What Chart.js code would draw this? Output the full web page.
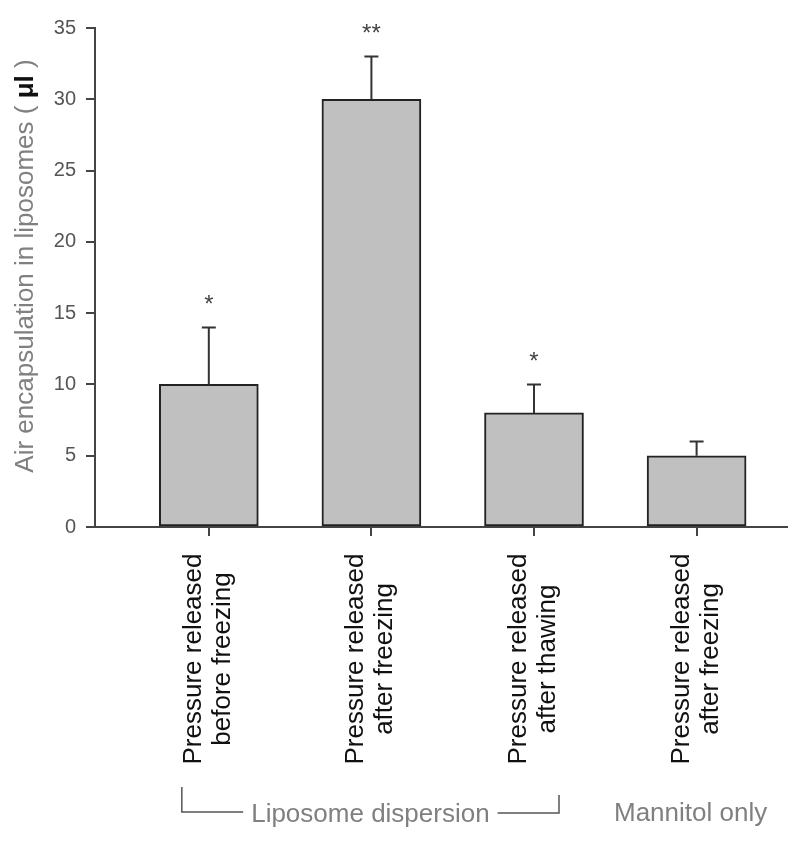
<!DOCTYPE html>
<html>
<head>
<meta charset="utf-8">
<script src="https://cdn.jsdelivr.net/npm/chart.js@4"></script>
<style>
  html, body { margin: 0; padding: 0; background: #fff; }
  #wrap { width: 800px; height: 843px; position: relative; }
</style>
</head>
<body>
<div id="wrap"><canvas id="chart"></canvas></div>
<script>
// values
const categories = [
    ['Pressure released', 'before freezing'],
    ['Pressure released', 'after freezing'],
    ['Pressure released', 'after thawing'],
    ['Pressure released', 'after freezing']
];
const means = [10, 30, 8, 5];
const upperErr = [4, 3, 2, 1];
const sigMarks = ['*', '**', '*', ''];
const yTicks = [0, 5, 10, 15, 20, 25, 30, 35];
const groupLabels = ['Liposome dispersion', 'Mannitol only'];
const groupFirst = [0, 3];
const groupLast = [2, 3];
const yTitle = ['Air encapsulation in liposomes ( ', 'μl', ' )'];

const FONT = '"Liberation Sans", Arial, Helvetica, sans-serif';
Chart.defaults.font.family = FONT;

// error bars + significance stars
const errorBars = {
    id: 'errorBars',
    afterDatasetsDraw(chart) {
        const ctx = chart.ctx;
        const yScale = chart.scales.y;
        const meta = chart.getDatasetMeta(0);
        ctx.save();
        ctx.strokeStyle = '#333';
        ctx.lineWidth = 2;
        meta.data.forEach((bar, i) => {
            const top = yScale.getPixelForValue(means[i] + upperErr[i]);
            ctx.beginPath();
            ctx.moveTo(bar.x, bar.y);
            ctx.lineTo(bar.x, top);
            ctx.moveTo(bar.x - 7, top);
            ctx.lineTo(bar.x + 7, top);
            ctx.stroke();
            if (sigMarks[i]) {
                ctx.fillStyle = '#444';
                ctx.font = '24px ' + FONT;
                ctx.textAlign = 'center';
                ctx.textBaseline = 'middle';
                ctx.fillText(sigMarks[i], bar.x, top - 22);
            }
        });
        ctx.restore();
    }
};

// rotated category labels, group brackets and y title
const extraText = {
    id: 'extraText',
    afterDraw(chart) {
        const ctx = chart.ctx;
        const xs = chart.scales.x;
        ctx.save();

        // category labels, read bottom to top
        ctx.font = '26px ' + FONT;
        ctx.fillStyle = '#111';
        ctx.textAlign = 'center';
        ctx.textBaseline = 'alphabetic';
        categories.forEach((lines, i) => {
            const x = xs.getPixelForValue(i);
            ctx.save();
            ctx.translate(x, 659);
            ctx.rotate(-Math.PI / 2);
            ctx.fillText(lines[0], 0, -8);
            ctx.fillText(lines[1], 0, 21);
            ctx.restore();
        });

        // groups under the labels
        ctx.fillStyle = '#808080';
        ctx.strokeStyle = '#555';
        ctx.lineWidth = 1.5;
        groupLabels.forEach((label, g) => {
            const a = xs.getPixelForValue(groupFirst[g]);
            const b = xs.getPixelForValue(groupLast[g]);
            if (groupFirst[g] === groupLast[g]) {
                ctx.textAlign = 'center';
                ctx.fillText(label, a - 6, 821);
                return;
            }
            const left = a - 27, right = b + 25;
            const mid = (left + right) / 2;
            const w = ctx.measureText(label).width;
            ctx.textAlign = 'center';
            ctx.fillText(label, mid, 822);
            ctx.beginPath();
            ctx.moveTo(left, 787);
            ctx.lineTo(left, 812);
            ctx.lineTo(mid - w / 2 - 8, 812);
            ctx.moveTo(mid + w / 2 + 8, 813);
            ctx.lineTo(right, 813);
            ctx.lineTo(right, 795);
            ctx.stroke();
        });

        // y axis title, mu-l in bold black
        ctx.translate(33, 266);
        ctx.rotate(-Math.PI / 2);
        ctx.textAlign = 'left';
        const fonts = ['26px ' + FONT, 'bold 26px ' + FONT, '26px ' + FONT];
        const colors = ['#808080', '#111', '#808080'];
        let total = 0;
        const widths = yTitle.map((t, k) => {
            ctx.font = fonts[k];
            const w = ctx.measureText(t).width;
            total += w;
            return w;
        });
        let pos = -total / 2;
        yTitle.forEach((t, k) => {
            ctx.font = fonts[k];
            ctx.fillStyle = colors[k];
            ctx.fillText(t, pos, 0);
            pos += widths[k];
        });
        ctx.restore();
    }
};

new Chart(document.getElementById('chart'), {
    type: 'bar',
    data: {
        datasets: [{
            data: means.map((v, i) => ({ x: i, y: v })),
            backgroundColor: '#c0c0c0',
            borderColor: '#222',
            borderWidth: 2,
            borderSkipped: false,
            barThickness: 99
        }]
    },
    options: {
        responsive: true,
        maintainAspectRatio: false,
        animation: false,
        layout: { padding: { top: 28, right: 13, left: 0, bottom: 0 } },
        plugins: {
            legend: { display: false },
            tooltip: { enabled: false }
        },
        scales: {
            x: {
                type: 'linear',
                offset: false,
                min: -0.70,
                max: 3.556,
                afterBuildTicks: axis => { axis.ticks = categories.map((c, i) => ({ value: i })); },
                afterFit: axis => { axis.height = 316; },
                ticks: { display: false },
                grid: { offset: false, drawOnChartArea: false, drawTicks: true, tickLength: 9, color: '#444', lineWidth: 2 },
                border: { color: '#444', width: 2 }
            },
            y: {
                min: 0,
                max: 35,
                afterBuildTicks: axis => { axis.ticks = yTicks.map(v => ({ value: v })); },
                afterFit: axis => { axis.width = 95; },
                ticks: { color: '#555', padding: 10, font: { size: 20 } },
                grid: { drawOnChartArea: false, drawTicks: true, tickLength: 9, color: '#444', lineWidth: 2 },
                border: { color: '#444', width: 2 }
            }
        }
    },
    plugins: [errorBars, extraText]
});
</script>
</body>
</html>
